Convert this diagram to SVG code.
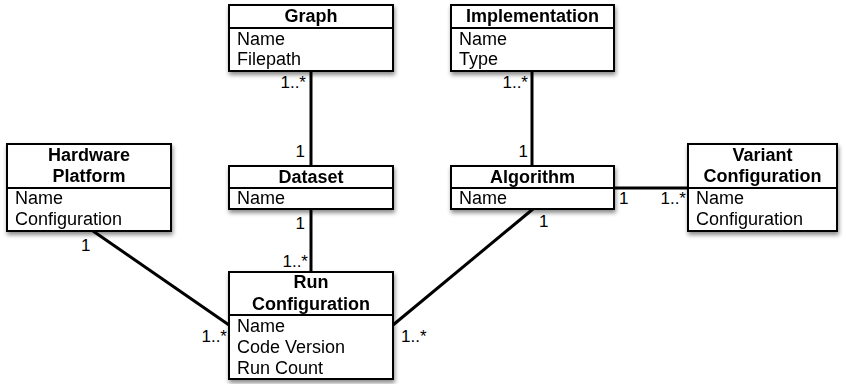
<svg xmlns="http://www.w3.org/2000/svg" width="846" height="384" viewBox="0 0 846 384">
<style>
text{font-family:"Liberation Sans",Arial,sans-serif;font-size:18px;fill:#000}
#connectors text{font-size:17px}
.t{font-weight:bold;text-anchor:middle}
.m{text-anchor:end}
.box{fill:#fff;stroke:#000;stroke-width:2}
.sep{stroke:#000;stroke-width:2}
.c{stroke:#000;stroke-width:3;fill:none}
</style>
<defs>
<filter id="sh" x="-10%" y="-10%" width="130%" height="140%">
<feDropShadow dx="1" dy="3" stdDeviation="2" flood-color="#000" flood-opacity="0.45"/>
</filter>
</defs>
<g id="connectors">
<line class="c" x1="311" y1="71" x2="311" y2="166"/>
<line class="c" x1="532" y1="71" x2="532" y2="166"/>
<line class="c" x1="311" y1="209" x2="311" y2="272"/>
<line class="c" x1="614" y1="188" x2="688" y2="188"/>
<line class="c" x1="93" y1="231" x2="229" y2="325"/>
<line class="c" x1="533" y1="209" x2="393" y2="325"/>
<text class="m" x="306" y="88">1..*</text>
<text class="m" x="305" y="157">1</text>
<text class="m" x="528" y="88">1..*</text>
<text class="m" x="528" y="157">1</text>
<text class="m" x="305" y="229">1</text>
<text class="m" x="308" y="267">1..*</text>
<text x="539" y="227">1</text>
<text x="619" y="204">1</text>
<text class="m" x="686" y="204">1..*</text>
<text x="81" y="251">1</text>
<text class="m" x="227" y="342">1..*</text>
<text x="401" y="342">1..*</text>
</g>
<g id="graph" filter="url(#sh)">
<rect class="box" x="229" y="5" width="164" height="66"/>
<line class="sep" x1="229" y1="28" x2="393" y2="28"/>
<text class="t" x="311" y="22">Graph</text>
<text x="237" y="45">Name</text>
<text x="237" y="65">Filepath</text>
</g>
<g id="implementation" filter="url(#sh)">
<rect class="box" x="451" y="5" width="163" height="66"/>
<line class="sep" x1="451" y1="28" x2="614" y2="28"/>
<text class="t" x="532.5" y="22">Implementation</text>
<text x="459" y="45">Name</text>
<text x="459" y="65">Type</text>
</g>
<g id="hardware" filter="url(#sh)">
<rect class="box" x="7" y="144" width="164" height="87"/>
<line class="sep" x1="7" y1="188" x2="171" y2="188"/>
<text class="t" x="89" y="161">Hardware</text>
<text class="t" x="89" y="182">Platform</text>
<text x="15" y="204">Name</text>
<text x="15" y="225">Configuration</text>
</g>
<g id="dataset" filter="url(#sh)">
<rect class="box" x="229" y="166" width="164" height="43"/>
<line class="sep" x1="229" y1="188" x2="393" y2="188"/>
<text class="t" x="311" y="183">Dataset</text>
<text x="237" y="204">Name</text>
</g>
<g id="algorithm" filter="url(#sh)">
<rect class="box" x="451" y="166" width="163" height="43"/>
<line class="sep" x1="451" y1="188" x2="614" y2="188"/>
<text class="t" x="532.5" y="183">Algorithm</text>
<text x="459" y="204">Name</text>
</g>
<g id="variant" filter="url(#sh)">
<rect class="box" x="688" y="144" width="149" height="87"/>
<line class="sep" x1="688" y1="188" x2="837" y2="188"/>
<text class="t" x="762.5" y="161">Variant</text>
<text class="t" x="762.5" y="182">Configuration</text>
<text x="696" y="204">Name</text>
<text x="696" y="225">Configuration</text>
</g>
<g id="run" filter="url(#sh)">
<rect class="box" x="229" y="272" width="164" height="107"/>
<line class="sep" x1="229" y1="315" x2="393" y2="315"/>
<text class="t" x="311" y="288">Run</text>
<text class="t" x="311" y="310">Configuration</text>
<text x="237" y="332">Name</text>
<text x="237" y="353">Code Version</text>
<text x="237" y="374">Run Count</text>
</g>
</svg>
